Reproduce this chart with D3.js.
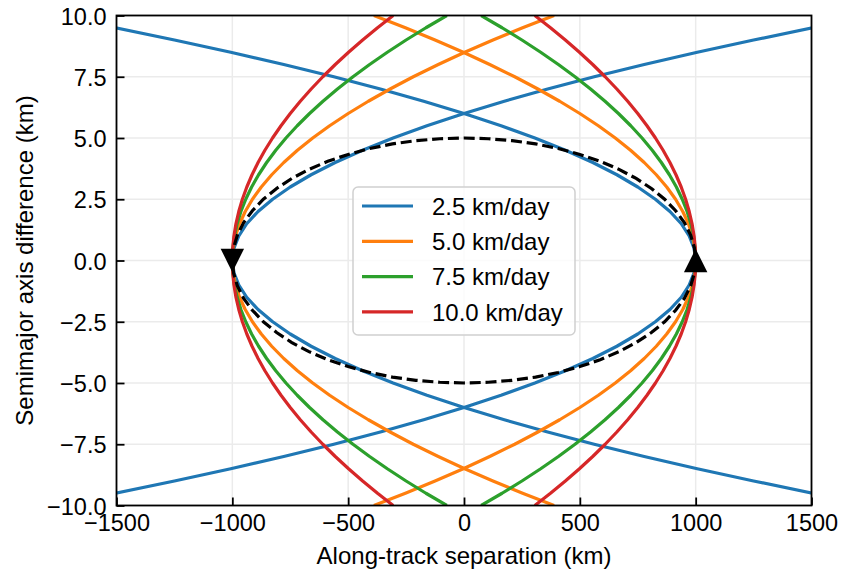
<!DOCTYPE html>
<html>
<head>
<meta charset="utf-8">
<script src="https://cdn.jsdelivr.net/npm/d3@7"></script>
<style>
  body { margin: 0; background: #fff; }
  text { font-family: "Liberation Sans", Arial, sans-serif; fill: #000; }
</style>
</head>
<body>
<svg id="chart"></svg>
<script>
// Drift rates and labels
var rates = [2.5, 5.0, 7.5, 10.0];
var rateLabels = ['2.5 km/day', '5.0 km/day', '7.5 km/day', '10.0 km/day'];

// Start / end points of the manoeuvre (km along track)
var vertexX = [-1000, 1000];

// Semimajor axis difference samples (km), one side of each curve
var smaSteps = [0, 0.5, 1, 1.5, 2, 2.5, 3, 3.5, 4, 4.5, 5, 5.5, 6, 6.5, 7, 7.5, 8, 8.5, 9, 9.5, 10];

// Along-track distance travelled from the vertex at each sample (km)
var drift25 = [0, 7, 28, 62, 111, 174, 250, 340, 444, 562, 694, 840, 1000, 1174, 1361, 1562, 1778, 2007, 2250, 2507, 2778];
var drift50 = [0, 3.5, 13.9, 31.2, 55.6, 86.8, 125, 170, 222, 281, 347, 420, 500, 587, 681, 781, 889, 1003, 1125, 1253, 1389];
var drift75 = [0, 2.3, 9.3, 20.8, 37.0, 57.9, 83.3, 113.4, 148.1, 187.5, 231.5, 280.1, 333.3, 391.2, 453.7, 520.8, 592.6, 669.0, 750.0, 835.6, 925.9];
var drift100 = [0, 1.7, 6.9, 15.6, 27.8, 43.4, 62.5, 85.1, 111.1, 140.6, 173.6, 210.1, 250, 293.4, 340.3, 390.6, 444.4, 501.7, 562.5, 626.7, 694.4];
var drifts = [drift25, drift50, drift75, drift100];

// Dashed reference curve, one quarter (|x| from the centre, semimajor diff)
var refX = [1000, 994.5, 978.1, 951.1, 913.5, 866.0, 809.0, 743.1, 669.1, 587.8, 500.0, 406.7, 309.0, 207.9, 104.5, 0];
var refA = [0, 0.52, 1.04, 1.55, 2.03, 2.5, 2.94, 3.35, 3.72, 4.05, 4.33, 4.57, 4.76, 4.89, 4.97, 5.0];

// Tick labels
var xTicks = [-1500, -1000, -500, 0, 500, 1000, 1500];
var yTicks = [-10, -7.5, -5, -2.5, 0, 2.5, 5, 7.5, 10];

var colors = ['#1f77b4', '#ff7f0e', '#2ca02c', '#d62728'];

var width = 841;
var height = 575;
var margin = { top: 15.5, right: 29.5, bottom: 69.5, left: 116.5 };
var plotW = width - margin.left - margin.right;
var plotH = height - margin.top - margin.bottom;
var lineW = 3.2;

var svg = d3.select('#chart')
  .attr('width', width)
  .attr('height', height);

var x = d3.scaleLinear().domain([-1500, 1500]).range([0, plotW]);
var y = d3.scaleLinear().domain([-10, 10]).range([plotH, 0]);

var g = svg.append('g')
  .attr('transform', 'translate(' + margin.left + ',' + margin.top + ')');

svg.append('defs').append('clipPath')
  .attr('id', 'plot-clip')
  .append('rect')
  .attr('width', plotW)
  .attr('height', plotH);

// Grid
g.append('g').selectAll('line')
  .data(xTicks)
  .enter()
  .append('line')
  .attr('x1', function(d) { return x(d); })
  .attr('x2', function(d) { return x(d); })
  .attr('y1', 0)
  .attr('y2', plotH)
  .attr('stroke', '#ebebeb')
  .attr('stroke-width', 1.5);

g.append('g').selectAll('line')
  .data(yTicks)
  .enter()
  .append('line')
  .attr('x1', 0)
  .attr('x2', plotW)
  .attr('y1', function(d) { return y(d); })
  .attr('y2', function(d) { return y(d); })
  .attr('stroke', '#ebebeb')
  .attr('stroke-width', 1.5);

var line = d3.line()
  .x(function(d) { return x(d[0]); })
  .y(function(d) { return y(d[1]); });

// Build the curve for a rate leaving one vertex (both signs of sma diff)
function curvePoints(drift, vx, dir) {
  var pts = [];
  for (var i = smaSteps.length - 1; i > 0; i--) {
    pts.push([vx + dir * drift[i], -smaSteps[i]]);
  }
  for (var j = 0; j < smaSteps.length; j++) {
    pts.push([vx + dir * drift[j], smaSteps[j]]);
  }
  return pts;
}

var curves = g.append('g').attr('clip-path', 'url(#plot-clip)');

rates.forEach(function(r, i) {
  var leftCurve = curvePoints(drifts[i], vertexX[0], 1);
  var rightCurve = curvePoints(drifts[i], vertexX[1], -1);
  [leftCurve, rightCurve].forEach(function(pts) {
    curves.append('path')
      .datum(pts)
      .attr('d', line)
      .attr('fill', 'none')
      .attr('stroke', colors[i])
      .attr('stroke-width', lineW)
      .attr('stroke-linejoin', 'round');
  });
});

// Dashed reference ellipse, walked round all four quarters
var refPts = [];
refX.forEach(function(v, i) { refPts.push([-v, refA[i]]); });
for (var i = refX.length - 2; i >= 0; i--) refPts.push([refX[i], refA[i]]);
for (var k = 1; k < refX.length; k++) refPts.push([refX[k], -refA[k]]);
for (var m = refX.length - 2; m >= 0; m--) refPts.push([-refX[m], -refA[m]]);

curves.append('path')
  .datum(refPts)
  .attr('d', line)
  .attr('fill', 'none')
  .attr('stroke', '#000')
  .attr('stroke-width', lineW)
  .attr('stroke-dasharray', '11,4.8');

// Start / end markers
var tri = 11.7;
g.append('path')
  .attr('transform', 'translate(' + x(vertexX[0]) + ',' + y(0) + ')')
  .attr('d', 'M0,' + tri + 'L' + (-tri) + ',' + (-tri) + 'L' + tri + ',' + (-tri) + 'Z')
  .attr('fill', '#000');
g.append('path')
  .attr('transform', 'translate(' + x(vertexX[1]) + ',' + y(0) + ')')
  .attr('d', 'M0,' + (-tri) + 'L' + (-tri) + ',' + tri + 'L' + tri + ',' + tri + 'Z')
  .attr('fill', '#000');

// Axes
var xAxis = d3.axisBottom(x)
  .tickValues(xTicks)
  .tickFormat(d3.format('d'))
  .tickSizeInner(-8)
  .tickSizeOuter(0)
  .tickPadding(9);

var yAxis = d3.axisLeft(y)
  .tickValues(yTicks)
  .tickFormat(d3.format('.1f'))
  .tickSizeInner(-8)
  .tickSizeOuter(0)
  .tickPadding(10);

var xg = g.append('g')
  .attr('transform', 'translate(0,' + plotH + ')')
  .call(xAxis);
var yg = g.append('g').call(yAxis);

[xg, yg].forEach(function(ax) {
  ax.select('.domain').remove();
  ax.selectAll('.tick line').attr('stroke', '#000').attr('stroke-width', 1.8);
  ax.selectAll('.tick text')
    .style('font-family', '"Liberation Sans", Arial, sans-serif')
    .style('font-size', '23.5px')
    .attr('fill', '#000');
});
yg.selectAll('.tick text').attr('dy', '0.37em');

// Frame
g.append('rect')
  .attr('width', plotW)
  .attr('height', plotH)
  .attr('fill', 'none')
  .attr('stroke', '#000')
  .attr('stroke-width', 1.8);

// Axis labels
svg.append('text')
  .attr('x', margin.left + plotW / 2)
  .attr('y', 564)
  .attr('text-anchor', 'middle')
  .style('font-size', '24px')
  .text('Along-track separation (km)');

svg.append('text')
  .attr('transform', 'translate(33,' + (margin.top + plotH / 2) + ') rotate(-90)')
  .attr('text-anchor', 'middle')
  .style('font-size', '24px')
  .text('Semimajor axis difference (km)');

// Legend
var legend = svg.append('g').attr('transform', 'translate(353,187)');
legend.append('rect')
  .attr('width', 222)
  .attr('height', 148)
  .attr('rx', 5)
  .attr('fill', '#fff')
  .attr('fill-opacity', 0.8)
  .attr('stroke', '#d0d0d0')
  .attr('stroke-width', 1.5);

var items = legend.selectAll('.item')
  .data(rateLabels)
  .enter()
  .append('g')
  .attr('class', 'item')
  .attr('transform', function(d, i) { return 'translate(0,' + (19 + i * 35.3) + ')'; });

items.append('line')
  .attr('x1', 9)
  .attr('x2', 60)
  .attr('stroke', function(d, i) { return colors[i]; })
  .attr('stroke-width', lineW);

items.append('text')
  .attr('x', 79)
  .attr('y', 8.8)
  .style('font-size', '24px')
  .text(function(d) { return d; });
</script>
</body>
</html>
